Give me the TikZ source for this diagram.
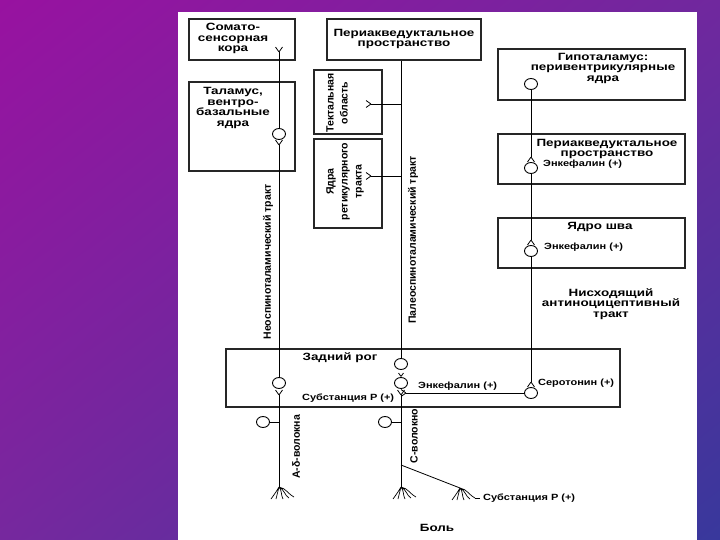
\documentclass[tikz,border=0pt]{standalone}
\usepackage{fontspec}
\setmainfont{Liberation Sans}
\newfontfamily\widefont{Liberation Sans}[FakeStretch=1.22]
\newfontfamily\widerfont{Liberation Sans}[FakeStretch=1.28]
\usetikzlibrary{shapes.geometric,shadings}
\definecolor{bgUL}{RGB}{152,18,160}
\definecolor{bgUR}{RGB}{112,40,158}
\definecolor{bgLL}{RGB}{118,40,158}
\definecolor{bgLR}{RGB}{56,56,156}
\begin{document}
\begin{tikzpicture}[x=1pt,y=-1pt,
  box/.style={draw=black!85,line width=1.1pt,inner sep=0pt},
  ln/.style={draw=black,line width=0.8pt},
  soma/.style={ellipse,draw=black,line width=0.9pt,minimum width=13pt,minimum height=11pt,inner sep=0pt,fill=white},
  ttl/.style={font=\widerfont\bfseries\fontsize{10.5}{10.5}\selectfont,align=center,inner sep=0pt},
  sml/.style={font=\widefont\bfseries\fontsize{9}{10}\selectfont,inner sep=0pt,anchor=west},
  rot/.style={font=\bfseries\fontsize{10.5}{14}\selectfont,rotate=90,align=center,inner sep=0pt},
  forkup/.pic={\draw[ln] (0,0) -- (-3.5,-5) (0,0) -- (3.5,-5);},
  forkdown/.pic={\draw[ln] (0,0) -- (-3.5,5) (0,0) -- (3.5,5);},
  forkleft/.pic={\draw[ln] (0,0) -- (-5,-3.5) (0,0) -- (-5,3.5);},
  rootpic/.pic={\draw[ln,line width=0.7pt] (0,0) .. controls (-3,5) .. (-8,12)
     (0,0) .. controls (-1,6) .. (-3,12)
     (0,0) .. controls (3,3) and (2,9) .. (4,12)
     (0,0) .. controls (5,2) and (6,9) .. (10,11)
     (0,0) .. controls (7,1) and (10,8) .. (15,10);}
]
\useasboundingbox (0,0) rectangle (720,540);
\shade[upper left=bgUL,upper right=bgUR,lower left=bgLL,lower right=bgLR] (0,0) rectangle (720,540);
\fill[white] (178,12) rectangle (697,540);

% boxes
\node[box,minimum width=106pt,minimum height=41pt] (b1) at (242,39.5) {};
\node[box,minimum width=106pt,minimum height=89pt] (b2) at (242,126.5) {};
\node[box,minimum width=154pt,minimum height=41pt] (b3) at (404,39.5) {};
\node[box,minimum width=68pt,minimum height=64pt] (b4) at (348,102) {};
\node[box,minimum width=68pt,minimum height=89pt] (b5) at (348,183.5) {};
\node[box,minimum width=187pt,minimum height=51pt] (b6) at (591.5,74.5) {};
\node[box,minimum width=187pt,minimum height=50pt] (b7) at (591.5,159) {};
\node[box,minimum width=187pt,minimum height=50pt] (b8) at (591.5,243) {};
\node[box,minimum width=394pt,minimum height=58pt] (b9) at (423,378) {};

% texts
\node[ttl] (t1) at (233,38.5) {Сомато-\\сенсорная\\кора};
\node[ttl] (t2) at (233,108) {Таламус,\\вентро-\\базальные\\ядра};
\node[ttl] (t3) at (404,39) {Периакведуктальное\\пространство};
\node[rot] (t4) at (337,103) {Тектальная\\область};
\node[rot] (t5) at (345,181.5) {Ядра\\ретикулярного\\тракта};
\node[ttl] (t6) at (603,68) {Гипоталамус:\\перивентрикулярные\\ядра};
\node[ttl] (t7) at (607,149) {Периакведуктальное\\пространство};
\node[sml] (t8) at (543,164) {Энкефалин (+)};
\node[ttl] (t9) at (600,227) {Ядро шва};
\node[sml] (t10) at (544,247) {Энкефалин (+)};
\node[ttl] (t11) at (611,304) {Нисходящий\\антиноцицептивный\\тракт};
\node[ttl] (t12) at (340,358) {Задний рог};
\node[sml] (t13) at (418,386) {Энкефалин (+)};
\node[sml] (t14) at (538,383) {Серотонин (+)};
\node[sml] (t15) at (302,398) {Субстанция Р (+)};
\node[rot] (t16) at (268,262) {Неоспиноталамический тракт};
\node[rot] (t17) at (413,240) {Палеоспиноталамический тракт};
\node[rot] (t18) at (296,447) {А-δ-волокна};
\node[rot] (t19) at (414,436) {С-волокно};
\node[sml] (t20) at (483,498) {Субстанция Р (+)};
\node[ttl] (t21) at (437,528) {Боль};

% somata
\node[soma] (c1) at (279,383) {};
\node[soma] (c2) at (279,134) {};
\node[soma] (c3) at (401,383) {};
\node[soma] (c4) at (401,364) {};
\node[soma] (c5) at (531,84) {};
\node[soma] (c6) at (531,168) {};
\node[soma] (c7) at (531,251) {};
\node[soma] (c8) at (531,393) {};
\node[soma] (s1) at (263,422) {};
\node[soma] (s2) at (385,422) {};

% coordinates
\coordinate (f1) at (279,395);
\coordinate (f2) at (279,145);
\coordinate (f3) at (279,52);
\coordinate (f4) at (401,395);
\coordinate (f5) at (401,376.5);
\coordinate (f6) at (371,104);
\coordinate (f7) at (371,176);
\coordinate (f8) at (531,157);
\coordinate (f9) at (531,240);
\coordinate (f10) at (531,382);
\coordinate (f11) at (406,393);
\coordinate (r1) at (279,487);
\coordinate (r2) at (401,487);
\coordinate (r3) at (460,488);
\coordinate (d1) at (401,465);
\coordinate (p1) at (401,104);
\coordinate (p2) at (401,176);

% neospinothalamic
\draw[ln] (r1) -- (f1);
\draw[ln] (c1.north) -- (f2);
\draw[ln] (c2.north) -- (f3);
\draw[ln] (s1.east) -- (s1.east -| r1);
% paleospinothalamic
\draw[ln] (r2) -- (f4);
\draw[ln] (c3.north) -- (f5);
\draw[ln] (c4.north) -- (c4.north |- b3.south);
\draw[ln] (p1) -- (f6);
\draw[ln] (p2) -- (f7);
\draw[ln] (s2.east) -- (s2.east -| r2);
\draw[ln] (d1) -- (r3);
% descending
\draw[ln] (c5.south) -- (f8);
\draw[ln] (c6.south) -- (f9);
\draw[ln] (c7.south) -- (f10);
\draw[ln] (c8.west) -- (f11);

% terminals
\pic at (f1) {forkup};
\pic at (f2) {forkup};
\pic at (f3) {forkup};
\pic at (f4) {forkup};
\pic[scale=0.7] at (f5) {forkup};
\pic at (f6) {forkleft};
\pic at (f7) {forkleft};
\pic at (f8) {forkdown};
\pic at (f9) {forkdown};
\pic at (f10) {forkdown};
\pic at (f11) {forkleft};

% roots
\pic at (r1) {rootpic};
\pic at (r2) {rootpic};
\pic at (r3) {rootpic};
\draw[ln,line width=0.7pt] ([shift={(15,10)}]r3) -- ++(5,0);
\end{tikzpicture}
\end{document}
